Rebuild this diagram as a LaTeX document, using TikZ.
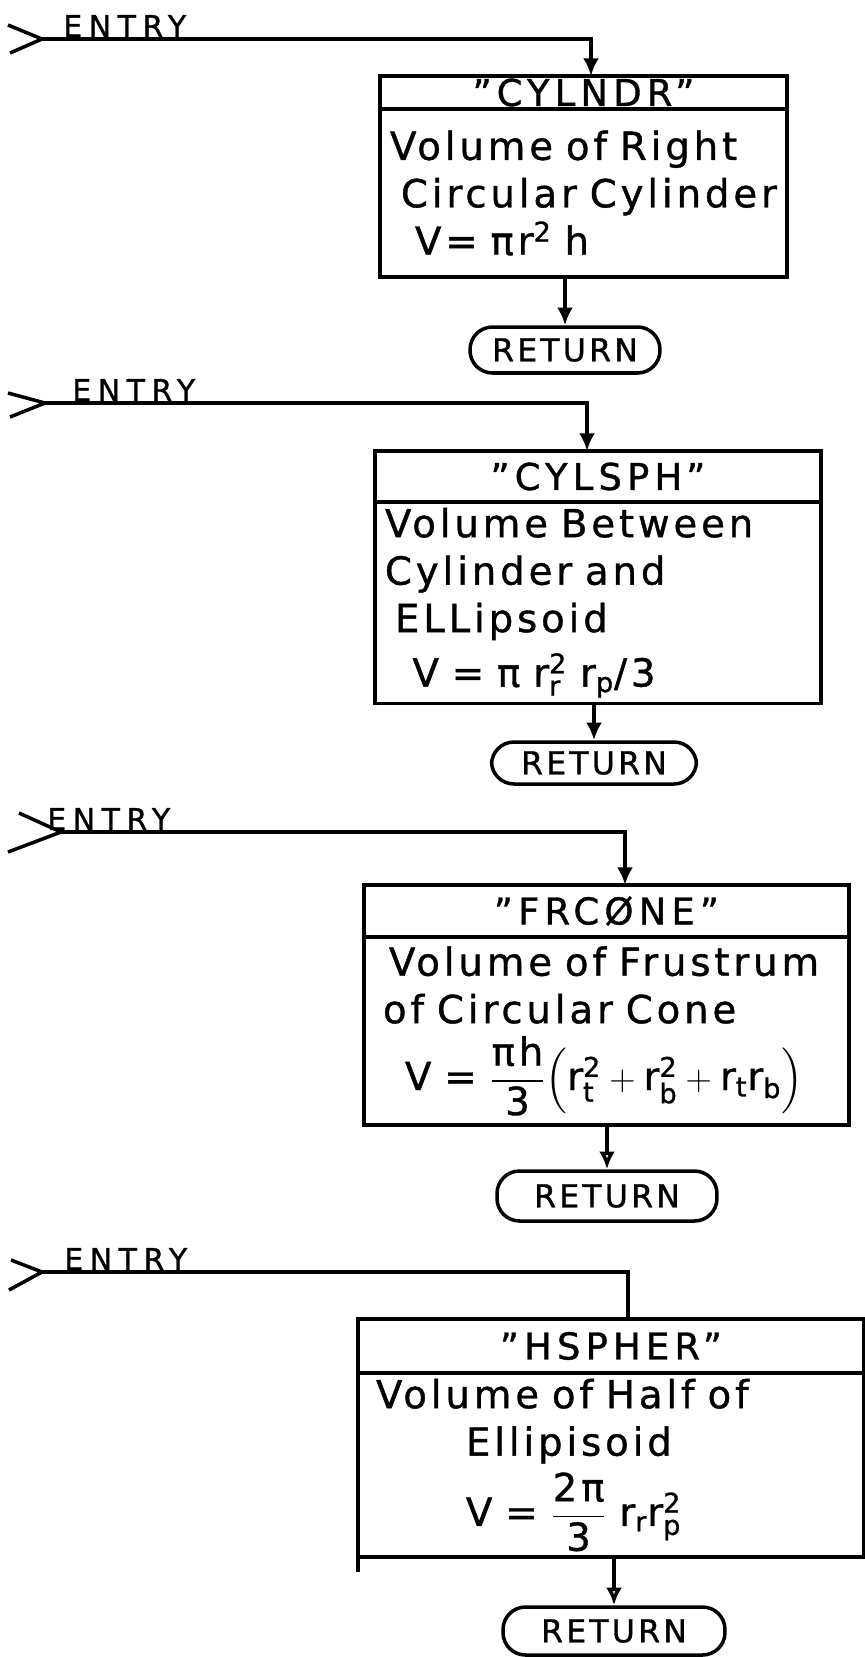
\documentclass[tikz,border=0pt]{standalone}
\usepackage{amsmath}
\usepackage{fontspec}
\setmainfont{DejaVu Sans}[LetterSpace=10, WordSpace=1.5, FakeBold=1]
\usepackage{tikz}
\usetikzlibrary{positioning, arrows.meta}
\tikzset{
  entrytext/.style={font=\fontsize{17}{19}\selectfont\addfontfeature{LetterSpace=22}, inner sep=0pt},
  headbox/.style={rectangle, draw, line width=2pt, outer sep=0pt, inner sep=0pt, text centered, font=\fontsize{21}{24}\selectfont\addfontfeature{LetterSpace=14}},
  bodybox/.style={rectangle, draw, line width=2pt, outer sep=0pt, inner xsep=0.2cm, align=left, font=\fontsize{22}{27}\selectfont},
  retbox/.style={rectangle, rounded corners=0.45cm, draw, line width=2pt, inner sep=0pt, text centered, font=\fontsize{18}{20}\selectfont},
  link/.style={line width=2pt},
  arrow/.style={line width=2pt, -{Latex[length=10pt,width=9pt]}},
  openarrow/.style={line width=2pt, -{Latex[open,length=10pt,width=9pt]}}
}
\begin{document}
\begin{tikzpicture}[x=0.02cm, y=-0.02cm]
    \useasboundingbox (0,0) rectangle (865,1657);

    % CYLNDR
    \coordinate (cylin) at (42,39);
    \coordinate (cylturn) at (591,39);
    \node (cylentry) [entrytext, anchor=south west] at ([xshift=0.42cm, yshift=1pt]cylin) {ENTRY};
    \node (cylhead) [headbox, anchor=north west, minimum width=8.14cm, minimum height=0.66cm] at (380,76) {"CYLNDR"};
    \node (cyl) [bodybox, anchor=north west, text width=7.74cm, minimum height=3.36cm] at (cylhead.south west) {\mbox{Volume of Right}\\ \hspace*{0.22cm}\mbox{Circular Cylinder}\\ \hspace*{0.5cm}\mbox{V= πr\textsuperscript{2} h}};
    \node (cylret) [retbox, minimum width=3.8cm, minimum height=0.92cm] at (565,350) {RETURN};

    \draw [link] ([shift={(-34,-14)}]cylin) -- (cylin) -- ([shift={(-32,14)}]cylin);
    \draw [arrow] (cylin) -- (cylturn) -- (cylturn |- cylhead.north);
    \draw [arrow] (cylret |- cyl.south) -- (cylret);

    % CYLSPH
    \coordinate (sphin) at (45,403);
    \coordinate (sphturn) at (587,403);
    \node (sphentry) [entrytext, anchor=south west] at ([xshift=0.54cm, yshift=1pt]sphin) {ENTRY};
    \node (sphhead) [headbox, anchor=north west, minimum width=8.92cm, minimum height=1.02cm] at (375,451) {"CYLSPH"};
    \node (sph) [bodybox, anchor=north west, text width=8.52cm, minimum height=3.96cm] at (sphhead.south west) {\mbox{Volume Between}\\ \mbox{Cylinder and}\\ \hspace*{0.2cm}\mbox{ELLipsoid}\\[4pt] \hspace*{0.55cm}\mbox{V = π r$^{\text{2}}_{\text{r}}$ r$_{\text{p}}$/3}};
    \node (sphret) [retbox, minimum width=4.1cm, minimum height=0.84cm] at (594,763) {RETURN};

    \draw [link] ([shift={(-37,-10)}]sphin) -- (sphin) -- ([shift={(-35,14)}]sphin);
    \draw [arrow] (sphin) -- (sphturn) -- (sphturn |- sphhead.north);
    \draw [arrow] (sphret |- sph.south) -- (sphret);

    % FRCONE
    \coordinate (conein) at (61,832);
    \coordinate (coneturn) at (625,832);
    \node (coneentry) [entrytext, anchor=south west] at ([xshift=-0.28cm, yshift=1pt]conein) {ENTRY};
    \node (conehead) [headbox, anchor=north west, minimum width=9.7cm, minimum height=1.04cm] at (364,885) {"FRCØNE"};
    \node (cone) [bodybox, anchor=north west, text width=9.3cm, minimum height=3.76cm] at (conehead.south west) {\hspace*{0.3cm}\mbox{Volume of Frustrum}\\ \hspace*{0.18cm}\mbox{of Circular Cone}\\[6pt] \hspace*{0.62cm}\mbox{V = $\dfrac{\text{πh}}{\text{3}}\Bigl(\text{r}^{\text{2}}_{\text{t}}+\text{r}^{\text{2}}_{\text{b}}+\text{r}_{\text{t}}\text{r}_{\text{b}}\Bigr)$}};
    \node (coneret) [retbox, minimum width=4.4cm, minimum height=1.0cm] at (607,1196) {RETURN};

    \draw [link] ([shift={(-42,-19)}]conein) -- (conein) -- ([shift={(-53,20)}]conein);
    \draw [arrow] (conein) -- (coneturn) -- (coneturn |- conehead.north);
    \draw [openarrow] (coneret |- cone.south) -- (coneret);

    % HSPHER
    \coordinate (hsphin) at (42,1272);
    \coordinate (hsphturn) at (628,1272);
    \node (hsphentry) [entrytext, anchor=south west] at ([xshift=0.44cm, yshift=1pt]hsphin) {ENTRY};
    \node (hsphhead) [headbox, anchor=north west, minimum width=10.12cm, minimum height=1.08cm] at (358,1319) {"HSPHER"};
    \node (hsph) [bodybox, anchor=north west, text width=9.72cm, minimum height=3.68cm] at (hsphhead.south west) {\hspace*{0.16cm}\mbox{Volume of Half of}\\ \hspace*{1.96cm}\mbox{Ellipisoid}\\[4pt] \hspace*{1.96cm}\mbox{V = $\dfrac{\text{2π}}{\text{3}}$ r$_{\text{r}}$r$^{\text{2}}_{\text{p}}$}};
    \node (hsphret) [retbox, minimum width=4.44cm, minimum height=0.96cm] at (614,1631) {RETURN};

    \draw [link] ([shift={(-31,-12)}]hsphin) -- (hsphin) -- ([shift={(-33,18)}]hsphin);
    \draw [link] (hsphin) -- (hsphturn) -- (hsphturn |- hsphhead.north);
    \draw [link] (hsph.south west) -- ++(0,15);
    \draw [openarrow] (hsphret |- hsph.south) -- (hsphret);
\end{tikzpicture}
\end{document}
